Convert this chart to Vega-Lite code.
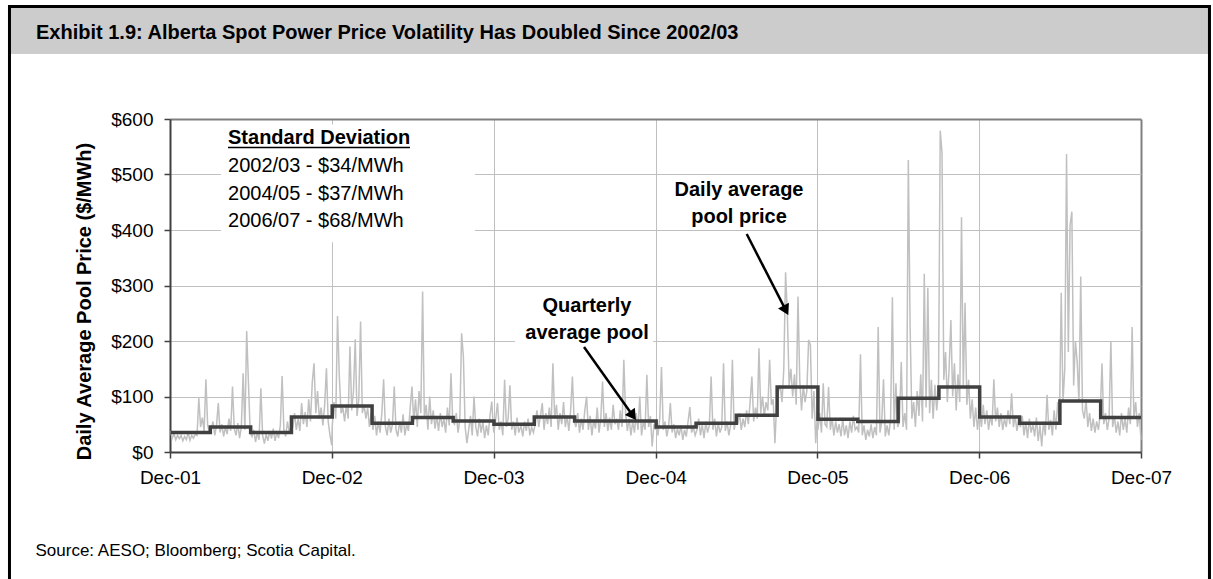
{
"$schema": "https://vega.github.io/schema/vega-lite/v6.json",
"width": 971,
"height": 333,
"autosize": {"type": "none"},
"padding": {"left": 170, "top": 119, "right": 72, "bottom": 127},
"background": "white",
"config": {"font": "Liberation Sans", "view": {"stroke": null}},
"title": {"text": "Exhibit 1.9: Alberta Spot Power Price Volatility Has Doubled Since 2002/03", "anchor": "start", "frame": "group", "fontSize": 20, "fontWeight": "bold", "color": "black", "offset": 0, "dx": -134, "dy": 54, "baseline": "alphabetic"},
"datasets": {
"daily": [
{"date":"2002-01-01","price":38},{"date":"2002-01-05","price":25},{"date":"2002-01-09","price":33},{"date":"2002-01-13","price":22},{"date":"2002-01-17","price":30},{"date":"2002-01-21","price":24},{"date":"2002-01-25","price":30},{"date":"2002-01-29","price":20},{"date":"2002-02-02","price":28},{"date":"2002-02-06","price":22},{"date":"2002-02-10","price":35},{"date":"2002-02-14","price":21},{"date":"2002-02-18","price":30},{"date":"2002-02-22","price":25},{"date":"2002-02-26","price":32},{"date":"2002-03-02","price":30},{"date":"2002-03-06","price":97},{"date":"2002-03-10","price":45},{"date":"2002-03-14","price":62},{"date":"2002-03-18","price":38},{"date":"2002-03-22","price":131},{"date":"2002-03-26","price":48},{"date":"2002-03-30","price":35},
{"date":"2002-04-03","price":40},{"date":"2002-04-07","price":55},{"date":"2002-04-11","price":30},{"date":"2002-04-15","price":48},{"date":"2002-04-19","price":88},{"date":"2002-04-23","price":35},{"date":"2002-04-27","price":50},{"date":"2002-05-01","price":28},{"date":"2002-05-05","price":45},{"date":"2002-05-09","price":32},{"date":"2002-05-13","price":60},{"date":"2002-05-17","price":38},{"date":"2002-05-21","price":118},{"date":"2002-05-25","price":42},{"date":"2002-05-29","price":30},{"date":"2002-06-02","price":52},{"date":"2002-06-06","price":25},{"date":"2002-06-10","price":45},{"date":"2002-06-14","price":142},{"date":"2002-06-18","price":40},{"date":"2002-06-22","price":218},{"date":"2002-06-26","price":125},{"date":"2002-06-30","price":35},
{"date":"2002-07-04","price":28},{"date":"2002-07-08","price":40},{"date":"2002-07-12","price":18},{"date":"2002-07-16","price":35},{"date":"2002-07-20","price":22},{"date":"2002-07-24","price":115},{"date":"2002-07-28","price":30},{"date":"2002-08-01","price":15},{"date":"2002-08-05","price":32},{"date":"2002-08-09","price":20},{"date":"2002-08-13","price":38},{"date":"2002-08-17","price":24},{"date":"2002-08-21","price":42},{"date":"2002-08-25","price":20},{"date":"2002-08-29","price":35},{"date":"2002-09-02","price":25},{"date":"2002-09-06","price":48},{"date":"2002-09-10","price":137},{"date":"2002-09-14","price":40},{"date":"2002-09-18","price":28},{"date":"2002-09-22","price":55},{"date":"2002-09-26","price":35},{"date":"2002-09-30","price":45},
{"date":"2002-10-04","price":45},{"date":"2002-10-08","price":70},{"date":"2002-10-12","price":40},{"date":"2002-10-16","price":60},{"date":"2002-10-20","price":38},{"date":"2002-10-24","price":88},{"date":"2002-10-28","price":50},{"date":"2002-11-01","price":72},{"date":"2002-11-05","price":45},{"date":"2002-11-09","price":95},{"date":"2002-11-13","price":55},{"date":"2002-11-17","price":125},{"date":"2002-11-21","price":160},{"date":"2002-11-25","price":70},{"date":"2002-11-29","price":110},{"date":"2002-12-03","price":60},{"date":"2002-12-07","price":80},{"date":"2002-12-11","price":48},{"date":"2002-12-15","price":85},{"date":"2002-12-19","price":151},{"date":"2002-12-23","price":55},{"date":"2002-12-27","price":30},{"date":"2002-12-31","price":12},
{"date":"2003-01-01","price":45},{"date":"2003-01-05","price":90},{"date":"2003-01-09","price":60},{"date":"2003-01-13","price":245},{"date":"2003-01-17","price":138},{"date":"2003-01-21","price":70},{"date":"2003-01-25","price":80},{"date":"2003-01-29","price":55},{"date":"2003-02-02","price":85},{"date":"2003-02-06","price":60},{"date":"2003-02-10","price":190},{"date":"2003-02-14","price":75},{"date":"2003-02-18","price":110},{"date":"2003-02-22","price":203},{"date":"2003-02-26","price":65},{"date":"2003-03-02","price":95},{"date":"2003-03-06","price":235},{"date":"2003-03-10","price":70},{"date":"2003-03-14","price":85},{"date":"2003-03-18","price":60},{"date":"2003-03-22","price":80},{"date":"2003-03-26","price":45},{"date":"2003-03-30","price":70},
{"date":"2003-04-03","price":40},{"date":"2003-04-07","price":65},{"date":"2003-04-11","price":30},{"date":"2003-04-15","price":55},{"date":"2003-04-19","price":35},{"date":"2003-04-23","price":70},{"date":"2003-04-27","price":131},{"date":"2003-05-01","price":45},{"date":"2003-05-05","price":30},{"date":"2003-05-09","price":60},{"date":"2003-05-13","price":35},{"date":"2003-05-17","price":50},{"date":"2003-05-21","price":118},{"date":"2003-05-25","price":40},{"date":"2003-05-29","price":28},{"date":"2003-06-02","price":55},{"date":"2003-06-06","price":35},{"date":"2003-06-10","price":68},{"date":"2003-06-14","price":30},{"date":"2003-06-18","price":50},{"date":"2003-06-22","price":38},{"date":"2003-06-26","price":80},{"date":"2003-06-30","price":118},
{"date":"2003-07-04","price":55},{"date":"2003-07-08","price":95},{"date":"2003-07-12","price":45},{"date":"2003-07-16","price":110},{"date":"2003-07-20","price":70},{"date":"2003-07-24","price":289},{"date":"2003-07-28","price":60},{"date":"2003-08-01","price":85},{"date":"2003-08-05","price":40},{"date":"2003-08-09","price":100},{"date":"2003-08-13","price":50},{"date":"2003-08-17","price":75},{"date":"2003-08-21","price":42},{"date":"2003-08-25","price":65},{"date":"2003-08-29","price":38},{"date":"2003-09-02","price":70},{"date":"2003-09-06","price":45},{"date":"2003-09-10","price":60},{"date":"2003-09-14","price":35},{"date":"2003-09-18","price":80},{"date":"2003-09-22","price":48},{"date":"2003-09-26","price":142},{"date":"2003-09-30","price":55},
{"date":"2003-10-04","price":50},{"date":"2003-10-08","price":70},{"date":"2003-10-12","price":35},{"date":"2003-10-16","price":60},{"date":"2003-10-20","price":214},{"date":"2003-10-24","price":172},{"date":"2003-10-28","price":45},{"date":"2003-11-01","price":16},{"date":"2003-11-05","price":40},{"date":"2003-11-09","price":65},{"date":"2003-11-13","price":30},{"date":"2003-11-17","price":100},{"date":"2003-11-21","price":45},{"date":"2003-11-25","price":28},{"date":"2003-11-29","price":60},{"date":"2003-12-03","price":35},{"date":"2003-12-07","price":55},{"date":"2003-12-11","price":25},{"date":"2003-12-15","price":48},{"date":"2003-12-19","price":30},{"date":"2003-12-23","price":65},{"date":"2003-12-27","price":91},{"date":"2003-12-31","price":40},
{"date":"2004-01-01","price":35},{"date":"2004-01-05","price":60},{"date":"2004-01-09","price":88},{"date":"2004-01-13","price":40},{"date":"2004-01-17","price":55},{"date":"2004-01-21","price":30},{"date":"2004-01-25","price":130},{"date":"2004-01-29","price":45},{"date":"2004-02-02","price":60},{"date":"2004-02-06","price":120},{"date":"2004-02-10","price":40},{"date":"2004-02-14","price":55},{"date":"2004-02-18","price":30},{"date":"2004-02-22","price":62},{"date":"2004-02-26","price":35},{"date":"2004-03-02","price":48},{"date":"2004-03-06","price":28},{"date":"2004-03-10","price":55},{"date":"2004-03-14","price":38},{"date":"2004-03-18","price":60},{"date":"2004-03-22","price":30},{"date":"2004-03-26","price":45},{"date":"2004-03-30","price":35},
{"date":"2004-04-03","price":50},{"date":"2004-04-07","price":75},{"date":"2004-04-11","price":45},{"date":"2004-04-15","price":65},{"date":"2004-04-19","price":88},{"date":"2004-04-23","price":40},{"date":"2004-04-27","price":70},{"date":"2004-05-01","price":50},{"date":"2004-05-05","price":80},{"date":"2004-05-09","price":45},{"date":"2004-05-13","price":160},{"date":"2004-05-17","price":60},{"date":"2004-05-21","price":85},{"date":"2004-05-25","price":40},{"date":"2004-05-29","price":70},{"date":"2004-06-02","price":50},{"date":"2004-06-06","price":90},{"date":"2004-06-10","price":45},{"date":"2004-06-14","price":65},{"date":"2004-06-18","price":38},{"date":"2004-06-22","price":75},{"date":"2004-06-26","price":136},{"date":"2004-06-30","price":55},
{"date":"2004-07-04","price":45},{"date":"2004-07-08","price":70},{"date":"2004-07-12","price":35},{"date":"2004-07-16","price":60},{"date":"2004-07-20","price":40},{"date":"2004-07-24","price":75},{"date":"2004-07-28","price":100},{"date":"2004-08-01","price":40},{"date":"2004-08-05","price":65},{"date":"2004-08-09","price":30},{"date":"2004-08-13","price":58},{"date":"2004-08-17","price":42},{"date":"2004-08-21","price":80},{"date":"2004-08-25","price":35},{"date":"2004-08-29","price":60},{"date":"2004-09-02","price":127},{"date":"2004-09-06","price":45},{"date":"2004-09-10","price":70},{"date":"2004-09-14","price":38},{"date":"2004-09-18","price":62},{"date":"2004-09-22","price":40},{"date":"2004-09-26","price":85},{"date":"2004-09-30","price":50},
{"date":"2004-10-04","price":60},{"date":"2004-10-08","price":40},{"date":"2004-10-12","price":75},{"date":"2004-10-16","price":45},{"date":"2004-10-20","price":166},{"date":"2004-10-24","price":70},{"date":"2004-10-28","price":38},{"date":"2004-11-01","price":60},{"date":"2004-11-05","price":30},{"date":"2004-11-09","price":55},{"date":"2004-11-13","price":35},{"date":"2004-11-17","price":70},{"date":"2004-11-21","price":40},{"date":"2004-11-25","price":100},{"date":"2004-11-29","price":30},{"date":"2004-12-03","price":55},{"date":"2004-12-07","price":40},{"date":"2004-12-11","price":139},{"date":"2004-12-15","price":45},{"date":"2004-12-19","price":65},{"date":"2004-12-23","price":10},{"date":"2004-12-27","price":50},{"date":"2004-12-31","price":40},
{"date":"2005-01-01","price":50},{"date":"2005-01-05","price":30},{"date":"2005-01-09","price":60},{"date":"2005-01-13","price":153},{"date":"2005-01-17","price":40},{"date":"2005-01-21","price":55},{"date":"2005-01-25","price":28},{"date":"2005-01-29","price":45},{"date":"2005-02-02","price":88},{"date":"2005-02-06","price":35},{"date":"2005-02-10","price":50},{"date":"2005-02-14","price":25},{"date":"2005-02-18","price":42},{"date":"2005-02-22","price":30},{"date":"2005-02-26","price":48},{"date":"2005-03-02","price":22},{"date":"2005-03-06","price":40},{"date":"2005-03-10","price":28},{"date":"2005-03-14","price":55},{"date":"2005-03-18","price":81},{"date":"2005-03-22","price":35},{"date":"2005-03-26","price":45},{"date":"2005-03-30","price":30},
{"date":"2005-04-03","price":40},{"date":"2005-04-07","price":60},{"date":"2005-04-11","price":30},{"date":"2005-04-15","price":50},{"date":"2005-04-19","price":25},{"date":"2005-04-23","price":55},{"date":"2005-04-27","price":35},{"date":"2005-05-01","price":48},{"date":"2005-05-05","price":136},{"date":"2005-05-09","price":40},{"date":"2005-05-13","price":60},{"date":"2005-05-17","price":28},{"date":"2005-05-21","price":52},{"date":"2005-05-25","price":35},{"date":"2005-05-29","price":45},{"date":"2005-06-02","price":160},{"date":"2005-06-06","price":38},{"date":"2005-06-10","price":55},{"date":"2005-06-14","price":30},{"date":"2005-06-18","price":48},{"date":"2005-06-22","price":166},{"date":"2005-06-26","price":40},{"date":"2005-06-30","price":60},
{"date":"2005-07-04","price":50},{"date":"2005-07-08","price":70},{"date":"2005-07-12","price":40},{"date":"2005-07-16","price":60},{"date":"2005-07-20","price":45},{"date":"2005-07-24","price":75},{"date":"2005-07-28","price":50},{"date":"2005-08-01","price":90},{"date":"2005-08-05","price":136},{"date":"2005-08-09","price":55},{"date":"2005-08-13","price":80},{"date":"2005-08-17","price":60},{"date":"2005-08-21","price":187},{"date":"2005-08-25","price":70},{"date":"2005-08-29","price":100},{"date":"2005-09-02","price":65},{"date":"2005-09-06","price":90},{"date":"2005-09-10","price":75},{"date":"2005-09-14","price":166},{"date":"2005-09-18","price":85},{"date":"2005-09-22","price":95},{"date":"2005-09-26","price":16},{"date":"2005-09-30","price":90},
{"date":"2005-10-04","price":110},{"date":"2005-10-08","price":120},{"date":"2005-10-12","price":90},{"date":"2005-10-16","price":150},{"date":"2005-10-20","price":324},{"date":"2005-10-24","price":249},{"date":"2005-10-28","price":120},{"date":"2005-11-01","price":150},{"date":"2005-11-05","price":100},{"date":"2005-11-09","price":140},{"date":"2005-11-13","price":85},{"date":"2005-11-17","price":280},{"date":"2005-11-21","price":130},{"date":"2005-11-25","price":75},{"date":"2005-11-29","price":120},{"date":"2005-12-03","price":90},{"date":"2005-12-07","price":110},{"date":"2005-12-11","price":202},{"date":"2005-12-15","price":193},{"date":"2005-12-19","price":60},{"date":"2005-12-23","price":110},{"date":"2005-12-27","price":16},{"date":"2005-12-31","price":70},
{"date":"2006-01-01","price":40},{"date":"2006-01-05","price":70},{"date":"2006-01-09","price":35},{"date":"2006-01-13","price":124},{"date":"2006-01-17","price":50},{"date":"2006-01-21","price":45},{"date":"2006-01-25","price":117},{"date":"2006-01-29","price":40},{"date":"2006-02-02","price":60},{"date":"2006-02-06","price":30},{"date":"2006-02-10","price":55},{"date":"2006-02-14","price":35},{"date":"2006-02-18","price":50},{"date":"2006-02-22","price":28},{"date":"2006-02-26","price":60},{"date":"2006-03-02","price":30},{"date":"2006-03-06","price":48},{"date":"2006-03-10","price":25},{"date":"2006-03-14","price":55},{"date":"2006-03-18","price":35},{"date":"2006-03-22","price":65},{"date":"2006-03-26","price":40},{"date":"2006-03-30","price":45},
{"date":"2006-04-03","price":35},{"date":"2006-04-07","price":176},{"date":"2006-04-11","price":30},{"date":"2006-04-15","price":48},{"date":"2006-04-19","price":22},{"date":"2006-04-23","price":40},{"date":"2006-04-27","price":28},{"date":"2006-05-01","price":50},{"date":"2006-05-05","price":25},{"date":"2006-05-09","price":45},{"date":"2006-05-13","price":30},{"date":"2006-05-17","price":225},{"date":"2006-05-21","price":35},{"date":"2006-05-25","price":55},{"date":"2006-05-29","price":131},{"date":"2006-06-02","price":28},{"date":"2006-06-06","price":48},{"date":"2006-06-10","price":30},{"date":"2006-06-14","price":60},{"date":"2006-06-18","price":279},{"date":"2006-06-22","price":40},{"date":"2006-06-26","price":124},{"date":"2006-06-30","price":45},
{"date":"2006-07-04","price":55},{"date":"2006-07-08","price":162},{"date":"2006-07-12","price":45},{"date":"2006-07-16","price":70},{"date":"2006-07-20","price":40},{"date":"2006-07-24","price":526},{"date":"2006-07-28","price":225},{"date":"2006-08-01","price":60},{"date":"2006-08-05","price":90},{"date":"2006-08-09","price":45},{"date":"2006-08-13","price":110},{"date":"2006-08-17","price":65},{"date":"2006-08-21","price":140},{"date":"2006-08-25","price":55},{"date":"2006-08-29","price":321},{"date":"2006-09-02","price":80},{"date":"2006-09-06","price":296},{"date":"2006-09-10","price":70},{"date":"2006-09-14","price":130},{"date":"2006-09-18","price":60},{"date":"2006-09-22","price":121},{"date":"2006-09-26","price":75},{"date":"2006-09-30","price":110},
{"date":"2006-10-04","price":579},{"date":"2006-10-08","price":539},{"date":"2006-10-12","price":130},{"date":"2006-10-16","price":180},{"date":"2006-10-20","price":90},{"date":"2006-10-24","price":150},{"date":"2006-10-28","price":238},{"date":"2006-11-01","price":100},{"date":"2006-11-05","price":160},{"date":"2006-11-09","price":75},{"date":"2006-11-13","price":140},{"date":"2006-11-17","price":90},{"date":"2006-11-21","price":423},{"date":"2006-11-25","price":120},{"date":"2006-11-29","price":269},{"date":"2006-12-03","price":85},{"date":"2006-12-07","price":130},{"date":"2006-12-11","price":60},{"date":"2006-12-15","price":95},{"date":"2006-12-19","price":45},{"date":"2006-12-23","price":80},{"date":"2006-12-27","price":40},{"date":"2006-12-31","price":70},
{"date":"2007-01-01","price":70},{"date":"2007-01-05","price":45},{"date":"2007-01-09","price":85},{"date":"2007-01-13","price":50},{"date":"2007-01-17","price":75},{"date":"2007-01-21","price":40},{"date":"2007-01-25","price":65},{"date":"2007-01-29","price":48},{"date":"2007-02-02","price":131},{"date":"2007-02-06","price":55},{"date":"2007-02-10","price":80},{"date":"2007-02-14","price":45},{"date":"2007-02-18","price":70},{"date":"2007-02-22","price":40},{"date":"2007-02-26","price":60},{"date":"2007-03-02","price":45},{"date":"2007-03-06","price":75},{"date":"2007-03-10","price":50},{"date":"2007-03-14","price":106},{"date":"2007-03-18","price":45},{"date":"2007-03-22","price":65},{"date":"2007-03-26","price":38},{"date":"2007-03-30","price":55},
{"date":"2007-04-03","price":45},{"date":"2007-04-07","price":65},{"date":"2007-04-11","price":30},{"date":"2007-04-15","price":55},{"date":"2007-04-19","price":25},{"date":"2007-04-23","price":60},{"date":"2007-04-27","price":35},{"date":"2007-05-01","price":50},{"date":"2007-05-05","price":28},{"date":"2007-05-09","price":62},{"date":"2007-05-13","price":20},{"date":"2007-05-17","price":48},{"date":"2007-05-21","price":10},{"date":"2007-05-25","price":55},{"date":"2007-05-29","price":30},{"date":"2007-06-02","price":103},{"date":"2007-06-06","price":40},{"date":"2007-06-10","price":58},{"date":"2007-06-14","price":30},{"date":"2007-06-18","price":75},{"date":"2007-06-22","price":40},{"date":"2007-06-26","price":90},{"date":"2007-06-30","price":50},
{"date":"2007-07-04","price":287},{"date":"2007-07-08","price":90},{"date":"2007-07-12","price":150},{"date":"2007-07-16","price":537},{"date":"2007-07-20","price":180},{"date":"2007-07-24","price":409},{"date":"2007-07-28","price":433},{"date":"2007-08-01","price":120},{"date":"2007-08-05","price":200},{"date":"2007-08-09","price":163},{"date":"2007-08-13","price":90},{"date":"2007-08-17","price":316},{"date":"2007-08-21","price":75},{"date":"2007-08-25","price":60},{"date":"2007-08-29","price":95},{"date":"2007-09-02","price":45},{"date":"2007-09-06","price":70},{"date":"2007-09-10","price":38},{"date":"2007-09-14","price":60},{"date":"2007-09-18","price":35},{"date":"2007-09-22","price":55},{"date":"2007-09-26","price":40},{"date":"2007-09-30","price":70},
{"date":"2007-10-04","price":160},{"date":"2007-10-08","price":50},{"date":"2007-10-12","price":70},{"date":"2007-10-16","price":40},{"date":"2007-10-20","price":60},{"date":"2007-10-24","price":200},{"date":"2007-10-28","price":45},{"date":"2007-11-01","price":65},{"date":"2007-11-05","price":35},{"date":"2007-11-09","price":55},{"date":"2007-11-13","price":30},{"date":"2007-11-17","price":70},{"date":"2007-11-21","price":40},{"date":"2007-11-25","price":60},{"date":"2007-11-29","price":35},{"date":"2007-12-03","price":80},{"date":"2007-12-07","price":50},{"date":"2007-12-11","price":225},{"date":"2007-12-15","price":60},{"date":"2007-12-19","price":90},{"date":"2007-12-23","price":45},{"date":"2007-12-27","price":70},{"date":"2007-12-31","price":22}
],
"quarterly": [
{"date":"2002-01-01","avg":35},{"date":"2002-04-01","avg":45},{"date":"2002-07-01","avg":35},{"date":"2002-10-01","avg":63},
{"date":"2003-01-01","avg":83},{"date":"2003-04-01","avg":52},{"date":"2003-07-01","avg":62},{"date":"2003-10-01","avg":56},
{"date":"2004-01-01","avg":50},{"date":"2004-04-01","avg":63},{"date":"2004-07-01","avg":56},{"date":"2004-10-01","avg":56},
{"date":"2005-01-01","avg":45},{"date":"2005-04-01","avg":52},{"date":"2005-07-01","avg":66},{"date":"2005-10-01","avg":117},
{"date":"2006-01-01","avg":59},{"date":"2006-04-01","avg":55},{"date":"2006-07-01","avg":97},{"date":"2006-10-01","avg":117},
{"date":"2007-01-01","avg":63},{"date":"2007-04-01","avg":52},{"date":"2007-07-01","avg":92},{"date":"2007-10-01","avg":62},
{"date":"2007-12-31","avg":62}
]
},
"layer": [
{
"data": {"values": [{}]},
"mark": {"type": "rect", "fill": "#cccccc", "clip": false},
"encoding": {
"x": {"datum": {"year": 2001, "month": 1, "date": 2, "hours": 19, "utc": true}, "type": "temporal"},
"x2": {"datum": {"year": 2008, "month": 6, "date": 2, "hours": 12, "utc": true}},
"y": {"datum": 802, "type": "quantitative"},
"y2": {"datum": 717}
}
},
{
"data": {"values": [{}]},
"mark": {"type": "rect", "fill": "white", "fillOpacity": 0, "stroke": "black", "strokeWidth": 3, "clip": false},
"encoding": {
"x": {"datum": {"year": 2001, "month": 1, "date": 2, "hours": 19, "utc": true}, "type": "temporal"},
"x2": {"datum": {"year": 2008, "month": 6, "date": 2, "hours": 12, "utc": true}},
"y": {"datum": 802.7, "type": "quantitative"},
"y2": {"datum": -250}
}
},
{
"data": {"values": [{}]},
"mark": {"type": "rect", "fill": "white"},
"encoding": {
"x": {"datum": {"year": 2002, "month": 4, "date": 25, "utc": true}, "type": "temporal"},
"x2": {"datum": {"year": 2003, "month": 11, "date": 19, "utc": true}},
"y": {"datum": 590, "type": "quantitative"},
"y2": {"datum": 378}
}
},
{
"data": {"values": [{}]},
"mark": {"type": "rect", "fill": "white"},
"encoding": {
"x": {"datum": {"year": 2004, "month": 2, "date": 17, "hours": 12, "utc": true}, "type": "temporal"},
"x2": {"datum": {"year": 2004, "month": 12, "date": 25, "utc": true}},
"y": {"datum": 288, "type": "quantitative"},
"y2": {"datum": 193}
}
},
{
"data": {"name": "daily"},
"mark": {"type": "line", "color": "#c0c0c0", "strokeWidth": 1.5},
"encoding": {
"x": {"field": "date", "type": "temporal",
"scale": {"type": "utc", "domain": [{"year": 2001, "month": 12, "date": 31, "utc": true}, {"year": 2007, "month": 12, "date": 31, "utc": true}]},
"axis": {
"values": [{"year": 2001, "month": 12, "date": 31, "utc": true}, {"year": 2002, "month": 12, "date": 31, "utc": true}, {"year": 2003, "month": 12, "date": 31, "utc": true}, {"year": 2004, "month": 12, "date": 31, "utc": true}, {"year": 2005, "month": 12, "date": 31, "utc": true}, {"year": 2006, "month": 12, "date": 31, "utc": true}, {"year": 2007, "month": 12, "date": 31, "utc": true}],
"labelExpr": "utcFormat(datum.value, '%b-%y')",
"labelFontSize": 19, "labelColor": "black", "labelPadding": 10, "labelFlush": false, "labelOverlap": false,
"tickSize": 6, "tickColor": "#404040", "tickWidth": 1.5,
"domainColor": "#404040", "domainWidth": 2,
"grid": true,
"gridColor": {"condition": {"test": "utcyear(datum.value) === 2007", "value": "#808080"}, "value": "#c0c0c0"},
"gridWidth": {"condition": {"test": "utcyear(datum.value) === 2007", "value": 2}, "value": 1},
"title": "Source: AESO; Bloomberg; Scotia Capital.",
"titleFontSize": 17, "titleFontWeight": "normal", "titleColor": "black",
"titleX": -135, "titleY": 98, "titleAlign": "left", "titleBaseline": "middle", "titleAnchor": "start", "titleAngle": 0
}
},
"y": {"field": "price", "type": "quantitative",
"scale": {"domain": [0, 600], "nice": false},
"axis": {
"values": [0, 100, 200, 300, 400, 500, 600],
"labelExpr": "'$' + datum.value",
"labelFontSize": 19, "labelColor": "black", "labelPadding": 11,
"tickSize": 6, "tickColor": "#404040", "tickWidth": 1.5,
"domainColor": "#404040", "domainWidth": 2,
"grid": true,
"gridColor": {"condition": {"test": "datum.value === 600", "value": "#808080"}, "value": "#c0c0c0"},
"gridWidth": {"condition": {"test": "datum.value === 600", "value": 2}, "value": 1},
"title": "Daily Average Pool Price ($/MWh)",
"titleFontSize": 20, "titleFontWeight": "bold", "titleColor": "black",
"titleX": -86, "titleY": 182, "titleAngle": -90, "titleAlign": "center", "titleBaseline": "middle"
}
}
}
},
{
"data": {"name": "quarterly"},
"mark": {"type": "line", "color": "#404040", "strokeWidth": 3.5, "interpolate": "step-after"},
"encoding": {
"x": {"field": "date", "type": "temporal", "title": "Source: AESO; Bloomberg; Scotia Capital."},
"y": {"field": "avg", "type": "quantitative", "title": "Daily Average Pool Price ($/MWh)"}
}
},
{
"data": {"values": [{"label": "Standard Deviation"}]},
"mark": {"type": "text", "align": "left", "baseline": "middle", "fontSize": 20, "fontWeight": "bold", "color": "black"},
"encoding": {
"x": {"datum": {"year": 2002, "month": 5, "date": 10, "hours": 22, "utc": true}, "type": "temporal"},
"y": {"datum": 565, "type": "quantitative"},
"text": {"field": "label"}
}
},
{
"data": {"values": [{}]},
"mark": {"type": "rule", "color": "black", "strokeWidth": 1.5},
"encoding": {
"x": {"datum": {"year": 2002, "month": 5, "date": 10, "hours": 22, "utc": true}, "type": "temporal"},
"x2": {"datum": {"year": 2003, "month": 6, "date": 25, "hours": 12, "utc": true}},
"y": {"datum": 548.6, "type": "quantitative"}
}
},
{
"data": {"values": [{"label": "2002/03 - $34/MWh\n2004/05 - $37/MWh\n2006/07 - $68/MWh"}]},
"mark": {"type": "text", "align": "left", "baseline": "middle", "fontSize": 20, "color": "black", "lineBreak": "\n", "lineHeight": 27.5},
"encoding": {
"x": {"datum": {"year": 2002, "month": 5, "date": 10, "hours": 22, "utc": true}, "type": "temporal"},
"y": {"datum": 515.3, "type": "quantitative"},
"text": {"field": "label"}
}
},
{
"data": {"values": [{"label": "Daily average\npool price"}]},
"mark": {"type": "text", "align": "center", "baseline": "middle", "fontSize": 20, "fontWeight": "bold", "color": "black", "lineBreak": "\n", "lineHeight": 27},
"encoding": {
"x": {"datum": {"year": 2005, "month": 7, "date": 6, "hours": 22, "utc": true}, "type": "temporal"},
"y": {"datum": 472.1, "type": "quantitative"},
"text": {"field": "label"}
}
},
{
"data": {"values": [{"label": "Quarterly\naverage pool"}]},
"mark": {"type": "text", "align": "center", "baseline": "middle", "fontSize": 20, "fontWeight": "bold", "color": "black", "lineBreak": "\n", "lineHeight": 27},
"encoding": {
"x": {"datum": {"year": 2004, "month": 7, "date": 28, "hours": 22, "utc": true}, "type": "temporal"},
"y": {"datum": 263.1, "type": "quantitative"},
"text": {"field": "label"}
}
},
{
"data": {"values": [{}]},
"mark": {"type": "rule", "color": "black", "strokeWidth": 2.5},
"encoding": {
"x": {"datum": {"year": 2005, "month": 7, "date": 24, "hours": 7, "utc": true}, "type": "temporal"},
"y": {"datum": 392.8, "type": "quantitative"},
"x2": {"datum": {"year": 2005, "month": 10, "date": 20, "hours": 17, "utc": true}},
"y2": {"datum": 255.3}
}
},
{
"data": {"values": [{}]},
"mark": {"type": "point", "shape": "triangle-down", "filled": true, "size": 150, "angle": -27.2, "color": "black", "opacity": 1},
"encoding": {
"x": {"datum": {"year": 2005, "month": 10, "date": 20, "hours": 17, "utc": true}, "type": "temporal"},
"y": {"datum": 255.3, "type": "quantitative"}
}
},
{
"data": {"values": [{}]},
"mark": {"type": "rule", "color": "black", "strokeWidth": 2.5},
"encoding": {
"x": {"datum": {"year": 2004, "month": 7, "date": 22, "hours": 5, "utc": true}, "type": "temporal"},
"y": {"datum": 189.2, "type": "quantitative"},
"x2": {"datum": {"year": 2004, "month": 11, "date": 9, "hours": 12, "utc": true}},
"y2": {"datum": 65.4}
}
},
{
"data": {"values": [{}]},
"mark": {"type": "point", "shape": "triangle-down", "filled": true, "size": 150, "angle": -35.5, "color": "black", "opacity": 1},
"encoding": {
"x": {"datum": {"year": 2004, "month": 11, "date": 9, "hours": 12, "utc": true}, "type": "temporal"},
"y": {"datum": 65.4, "type": "quantitative"}
}
}
]
}
